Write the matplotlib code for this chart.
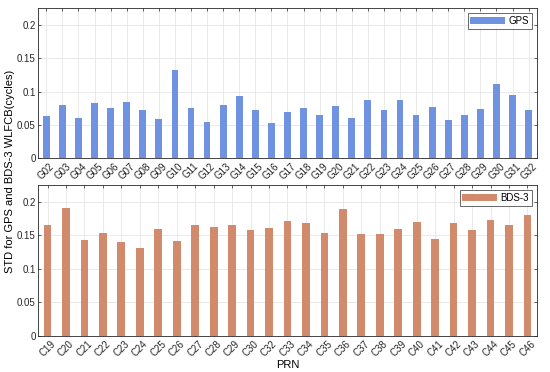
import matplotlib.pyplot as plt
import numpy as np

# GPS satellites
gps_prn = ['G%02d' % i for i in range(2, 33)]
gps_std = [0.063, 0.080, 0.061, 0.083, 0.075, 0.085, 0.073, 0.059, 0.133, 0.076,
           0.055, 0.080, 0.094, 0.072, 0.053, 0.070, 0.075, 0.065, 0.079, 0.060,
           0.087, 0.072, 0.087, 0.065, 0.077, 0.058, 0.065, 0.074, 0.111, 0.095,
           0.072]

# BDS-3 satellites (no C31)
bds_prn = ['C%02d' % i for i in list(range(19, 31)) + list(range(32, 47))]
bds_std = [0.165, 0.191, 0.1425, 0.154, 0.140, 0.131, 0.160, 0.142, 0.165, 0.162,
           0.165, 0.1585, 0.1605, 0.171, 0.169, 0.154, 0.1885, 0.152, 0.152, 0.160,
           0.170, 0.1445, 0.1685, 0.1585, 0.172, 0.166, 0.1805]

plt.rcParams['font.family'] = 'Liberation Sans'
plt.rcParams['font.size'] = 7

fig = plt.figure(figsize=(5.5, 3.72), dpi=100)
ax1 = fig.add_axes([0.0696, 0.5745, 0.9062, 0.4032])
ax2 = fig.add_axes([0.0696, 0.0976, 0.9062, 0.4051])


def style(ax, labels, vals, color, name):
    x = np.arange(1, len(vals) + 1)
    ax.bar(x, vals, width=0.42, color=color, label=name, zorder=3)
    ax.set_xlim(0.5, len(vals) + 0.5)
    ax.set_ylim(0, 0.225)
    ax.set_yticks([0, 0.05, 0.1, 0.15, 0.2])
    ax.set_yticklabels(['0', '0.05', '0.1', '0.15', '0.2'])
    ax.set_xticks(x)
    ax.set_xticklabels(labels, rotation=45, ha='center')
    ax.grid(True, color='#e6e6e6', linewidth=0.6, zorder=0)
    ax.tick_params(direction='in', top=True, right=True, length=2.5,
                   width=0.5, colors='#262626', pad=2)
    for s in ax.spines.values():
        s.set_color('#262626')
        s.set_linewidth(0.6)
    leg = ax.legend(loc='upper right', fancybox=False, handlelength=3.5,
                    borderpad=0.3, handletextpad=0.4, fontsize=7)
    leg.get_frame().set_edgecolor('#262626')
    leg.get_frame().set_linewidth(0.6)


style(ax1, gps_prn, gps_std, '#6f93e0', 'GPS')
style(ax2, bds_prn, bds_std, '#d28a6c', 'BDS-3')

ax2.set_xlabel('PRN', fontsize=8, labelpad=1)
fig.text(0.018, 0.54, 'STD for GPS and BDS-3 WLFCB(cycles)', rotation=90,
         va='center', ha='center', fontsize=8)

fig.savefig('out.png', dpi=100)
